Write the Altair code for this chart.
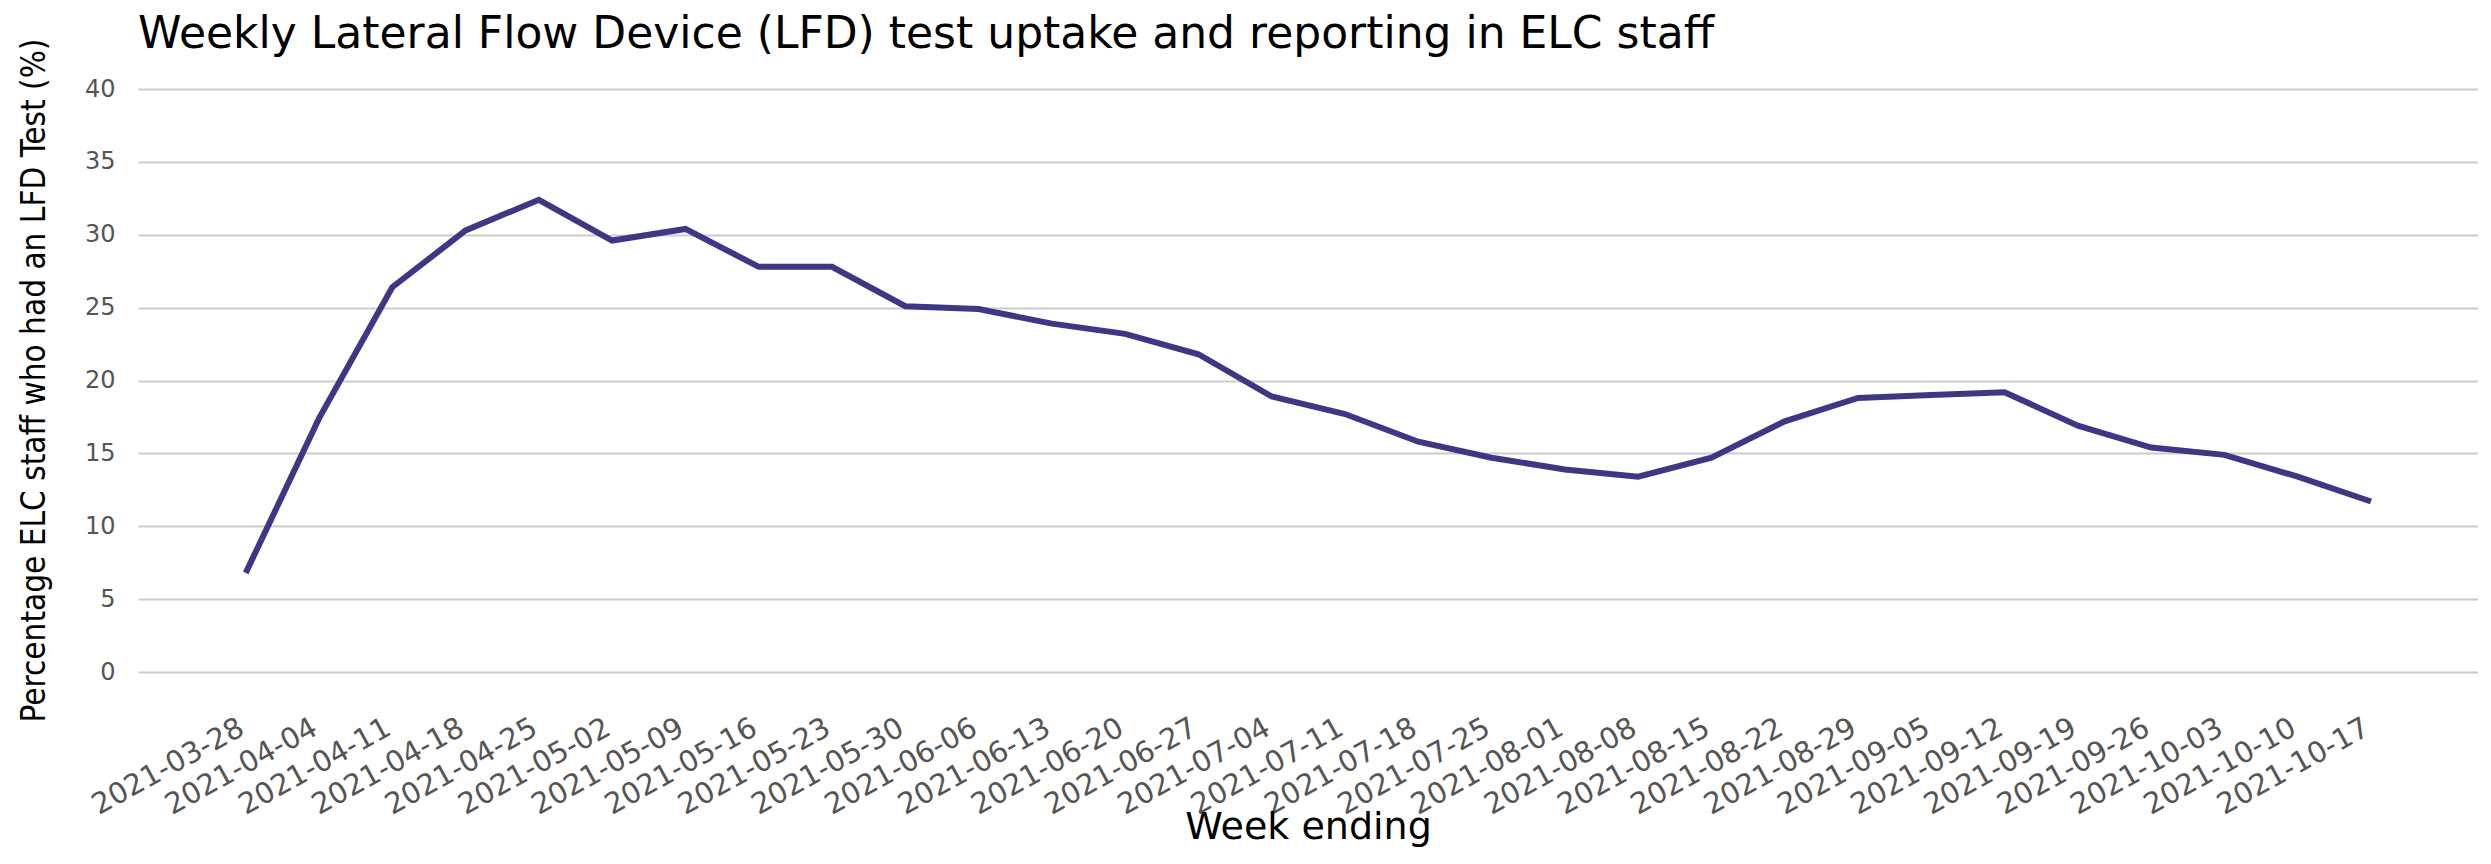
import altair as alt
import pandas as pd

weeks = ["2021-03-28", "2021-04-04", "2021-04-11", "2021-04-18", "2021-04-25",
         "2021-05-02", "2021-05-09", "2021-05-16", "2021-05-23", "2021-05-30",
         "2021-06-06", "2021-06-13", "2021-06-20", "2021-06-27", "2021-07-04",
         "2021-07-11", "2021-07-18", "2021-07-25", "2021-08-01", "2021-08-08",
         "2021-08-15", "2021-08-22", "2021-08-29", "2021-09-05", "2021-09-12",
         "2021-09-19", "2021-09-26", "2021-10-03", "2021-10-10", "2021-10-17"]
values = [6.8, 17.4, 26.4, 30.3, 32.4, 29.6, 30.4, 27.8, 27.8, 25.1,
          24.9, 23.9, 23.2, 21.8, 18.9, 17.7, 15.8, 14.7, 13.9, 13.4,
          14.7, 17.2, 18.8, 19.0, 19.2, 16.9, 15.4, 14.9, 13.4, 11.7]
y_ticks = [0, 5, 10, 15, 20, 25, 30, 35, 40]

df = pd.DataFrame({"idx": list(range(len(weeks))), "week": weeks, "pct": values})

# axis labels looked up from the weeks list
label_expr = "[" + ",".join("'" + w + "'" for w in weeks) + "][datum.value]"

title_text = "Weekly Lateral Flow Device (LFD) test uptake and reporting in ELC staff"

chart = alt.Chart(df).mark_line(color="#3d3785", strokeWidth=6).encode(
    x=alt.X("idx:Q", scale=alt.Scale(domain=[-1.47, len(weeks) - 1 + 1.46], nice=False, zero=False),
            axis=alt.Axis(title="Week ending", values=list(range(len(weeks))), labelExpr=label_expr,
                          labelAngle=-29, labelAlign="right",
                          labelBaseline="alphabetic", labelPadding=61,
                          ticks=False, tickSize=0, domain=False, grid=False,
                          labelFont="DejaVu Sans", labelFontSize=29, labelColor="#555555",
                          labelOverlap=False, labelFlush=False,
                          titleFont="DejaVu Sans", titleFontSize=38, titleFontWeight="normal",
                          titleColor="#000000", titleBaseline="alphabetic", titleY=166)),
    y=alt.Y("pct:Q", scale=alt.Scale(domain=[0, 40], nice=False),
            axis=alt.Axis(title="Percentage ELC staff who had an LFD Test (%)",
                          values=y_ticks, ticks=False, tickSize=0, domain=False,
                          grid=True, gridColor="#cccccc", gridWidth=2,
                          labelPadding=23, labelFont="DejaVu Sans", labelFontSize=24,
                          labelColor="#555555",
                          titleFont="Liberation Sans Narrow, DejaVu Sans Condensed, DejaVu Sans",
                          titleFontSize=33, titleFontWeight="normal", titleColor="#000000",
                          titleAngle=270, titleAlign="center", titleBaseline="middle",
                          titleX=-104, titleY=291)),
).properties(
    width=2340,
    height=583,
    title=alt.TitleParams(title_text, anchor="start", frame="group",
                          font="DejaVu Sans", fontSize=44, fontWeight="normal",
                          color="#000000", offset=2, dy=21),
    autosize=alt.AutoSizeParams(type="none"),
    padding={"left": 130, "top": 81, "right": 0, "bottom": 176},
).configure_view(stroke=None)

chart.save("out.html", embed_options={"renderer": "svg", "actions": False})
